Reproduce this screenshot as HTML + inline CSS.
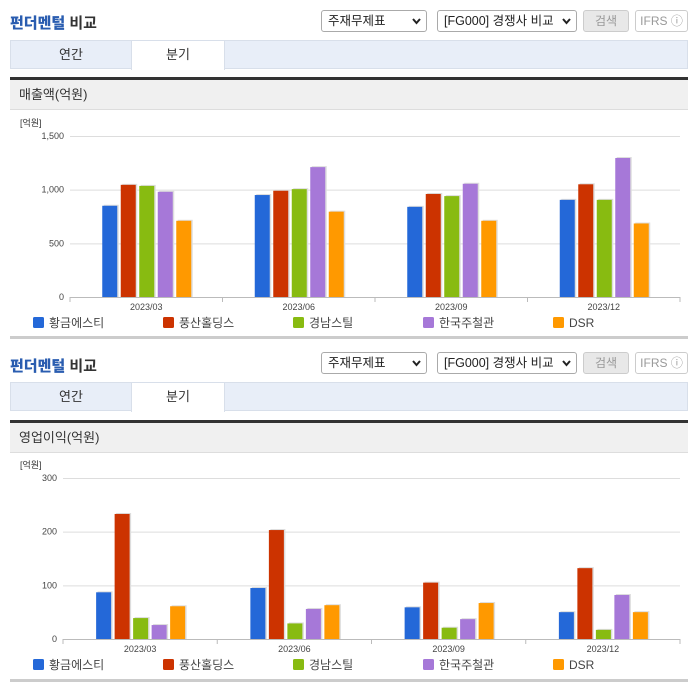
<!DOCTYPE html>
<html><head><meta charset="utf-8"><style>
body{margin:0;width:696px;height:684px;background:#fff;font-family:"Liberation Sans","Noto Sans CJK KR",sans-serif;position:relative;overflow:hidden}
.abs{position:absolute}
.title{font-size:15px;color:#333;left:10px;font-weight:bold}
.title b{color:#2a5db0}
.sel{border:1px solid #aaa;border-radius:3px;height:22px;font-size:12.5px;color:#222;box-sizing:border-box;padding:0 6px;line-height:20px;background:#fff}
.sel svg{position:absolute;right:5px;top:7px}
.btn{border:1px solid #ccc;border-radius:3px;height:22px;box-sizing:border-box;font-size:12px;color:#999;text-align:center;line-height:20px}
.tabs{left:10px;width:678px;height:29px;background:#e8eef8;border:1px solid #d8dfea;box-sizing:border-box}
.tab{position:absolute;top:0;height:28px;line-height:27px;font-size:13px;text-align:center;color:#333}
.dark{left:10px;width:678px;height:3px;background:#333}
.hdr{left:10px;width:678px;height:30px;background:#f0f0f0;font-size:13px;color:#333;line-height:30px;padding-left:9px;box-sizing:border-box;border-bottom:1px solid #ddd}
.bot{left:10px;width:678px;height:3px;background:#ccc}
</style></head><body>
<div>
<div class="abs title" style="top:12px"><b>펀더멘털</b> 비교</div>
<div class="abs sel" style="left:321px;top:10px;width:106px">주재무제표<svg width="9" height="7"><path d="M1 1L4.5 5L8 1" stroke="#222" stroke-width="2" fill="none"/></svg></div>
<div class="abs sel" style="left:437px;top:10px;width:140px">[FG000] 경쟁사 비교<svg width="9" height="7"><path d="M1 1L4.5 5L8 1" stroke="#222" stroke-width="2" fill="none"/></svg></div>
<div class="abs btn" style="left:583px;top:10px;width:46px;background:#e8e8e8">검색</div>
<div class="abs btn" style="left:635px;top:10px;width:53px">IFRS ⓘ</div>
<div class="abs tabs" style="top:40px">
<div class="tab" style="left:0;width:120px">연간</div>
<div class="tab" style="left:120px;width:92px;background:#fff;border-left:1px solid #d8dfea;border-right:1px solid #d8dfea;height:29px">분기</div>
</div>
<div class="abs dark" style="top:77px"></div>
<div class="abs hdr" style="top:80px">매출액(억원)</div>
<svg id="c1" class="abs" style="left:0;top:110px" width="696" height="230"></svg>
<div class="abs bot" style="top:336px"></div>
</div>
<div>
<div class="abs title" style="top:355px"><b>펀더멘털</b> 비교</div>
<div class="abs sel" style="left:321px;top:352px;width:106px">주재무제표<svg width="9" height="7"><path d="M1 1L4.5 5L8 1" stroke="#222" stroke-width="2" fill="none"/></svg></div>
<div class="abs sel" style="left:437px;top:352px;width:140px">[FG000] 경쟁사 비교<svg width="9" height="7"><path d="M1 1L4.5 5L8 1" stroke="#222" stroke-width="2" fill="none"/></svg></div>
<div class="abs btn" style="left:583px;top:352px;width:46px;background:#e8e8e8">검색</div>
<div class="abs btn" style="left:635px;top:352px;width:53px">IFRS ⓘ</div>
<div class="abs tabs" style="top:382px">
<div class="tab" style="left:0;width:120px">연간</div>
<div class="tab" style="left:120px;width:92px;background:#fff;border-left:1px solid #d8dfea;border-right:1px solid #d8dfea;height:29px">분기</div>
</div>
<div class="abs dark" style="top:420px"></div>
<div class="abs hdr" style="top:423px">영업이익(억원)</div>
<svg id="c2" class="abs" style="left:0;top:453px" width="696" height="230"></svg>
<div class="abs bot" style="top:679px"></div>
</div>
<script>
const categories=["2023/03","2023/06","2023/09","2023/12"];
const seriesNames=["황금에스티","풍산홀딩스","경남스틸","한국주철관","DSR"];
const colors=["#2468d8","#cc3300","#88bb11","#a678d8","#ff9900"];
const revHwang=[850,950,840,905];
const revPoongsan=[1045,990,960,1050];
const revGyeongnam=[1035,1005,940,905];
const revJucheol=[980,1210,1055,1295];
const revDSR=[710,795,710,685];
const revTicks=[0,500,1000,1500];
const revTickLabels=["0","500","1,000","1,500"];
const opHwang=[87,95,59,50];
const opPoongsan=[233,203,105,132];
const opGyeongnam=[39,29,21,17];
const opJucheol=[26,56,37,82];
const opDSR=[61,63,67,50];
const opTicks=[0,100,200,300];
const opTickLabels=["0","100","200","300"];
const NS="http://www.w3.org/2000/svg";
function mk(svg,tag,attrs,txt){const e=document.createElementNS(NS,tag);for(const k in attrs)e.setAttribute(k,attrs[k]);if(txt!==undefined)e.textContent=txt;svg.appendChild(e);return e;}
function draw(id,series,ticks,labels,x0,yTop,yBot){
 const svg=document.getElementById(id);const x1=680;const max=ticks[ticks.length-1];
 const y=v=>yBot-(v/max)*(yBot-yTop);
 const gw=(x1-x0)/categories.length;
 let t=mk(svg,'text',{x:20,y:yTop-10,'font-size':9,fill:'#333'},'[억원]');
 
 ticks.forEach((v,i)=>{
  const l=mk(svg,'line',{x1:x0,x2:x1,y1:y(v)+.5,y2:y(v)+.5,stroke:i==0?'#bbb':'#ddd'});
  
  const tl=mk(svg,'text',{x:x0-6,y:y(v)+3,'font-size':9,fill:'#444','text-anchor':'end'},labels[i]);
  
 });
 for(let c=0;c<=categories.length;c++){const tk=mk(svg,'line',{x1:x0+c*gw,x2:x0+c*gw,y1:yBot,y2:yBot+5,stroke:'#bbb'});}
 categories.forEach((cat,c)=>{
  const cx=x0+c*gw+gw/2;
  const cl=mk(svg,'text',{x:cx,y:yBot+13,'font-size':9,fill:'#444','text-anchor':'middle'},cat);
  
  series.forEach((s,k)=>{
   const bx=cx-44+k*18.5;
   const sh=mk(svg,'rect',{x:bx+1.5,y:y(s[c])-1,width:15,height:yBot-y(s[c])+1,fill:'#ddd'});
   
   const r=mk(svg,'rect',{x:bx,y:y(s[c]),width:15,height:yBot-y(s[c]),fill:colors[k]});
   
  });
 });
 seriesNames.forEach((n,k)=>{
  const lx=33+k*130;
  const sq=mk(svg,'rect',{x:lx,y:yBot+20,width:11,height:11,rx:1.5,fill:colors[k]});
  
  const lt=mk(svg,'text',{x:lx+16,y:yBot+30,'font-size':12,fill:'#444'},n);
  
 });
}
draw('c1',[revHwang,revPoongsan,revGyeongnam,revJucheol,revDSR],revTicks,revTickLabels,70,26,187);
draw('c2',[opHwang,opPoongsan,opGyeongnam,opJucheol,opDSR],opTicks,opTickLabels,63,25,186);
</script>
</body></html>
